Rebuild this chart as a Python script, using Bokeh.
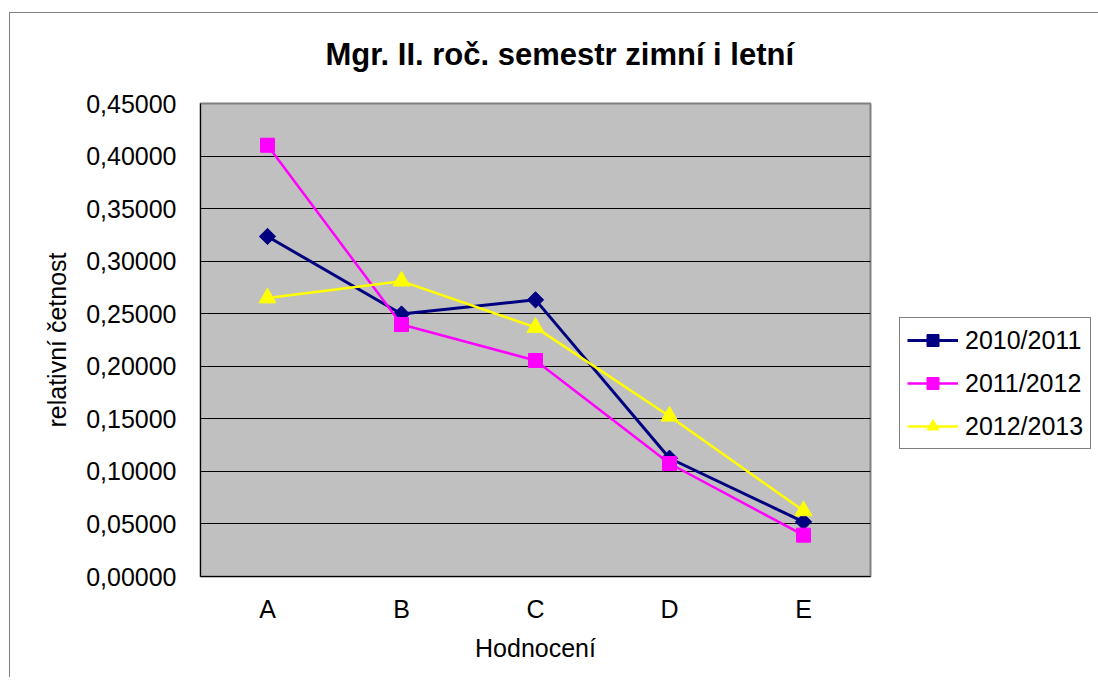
from bokeh.plotting import figure
from bokeh.models import (ColumnDataSource, FactorRange, Range1d, FixedTicker,
                          CustomJSTickFormatter, Legend, LegendItem, Title)
from bokeh.embed import file_html
from bokeh.resources import INLINE
import math

# ---- data ----
categories = ["A", "B", "C", "D", "E"]
series_names = ["2010/2011", "2011/2012", "2012/2013"]
s2010_2011 = [0.3235, 0.2497, 0.2632, 0.1125, 0.0520]
s2011_2012 = [0.4103, 0.2397, 0.2055, 0.1075, 0.0393]
s2012_2013 = [0.2650, 0.2810, 0.2370, 0.1525, 0.0625]
y_ticks = [0.0, 0.05, 0.10, 0.15, 0.20, 0.25, 0.30, 0.35, 0.40, 0.45]

FONT = "Liberation Sans"

p = figure(
    width=None, height=None,
    frame_width=670, frame_height=473,
    x_range=FactorRange(*categories),
    y_range=Range1d(0, 0.45),
    output_backend="svg", toolbar_location=None,
    min_border_left=190, min_border_right=226,
    min_border_top=90, min_border_bottom=101,
    background_fill_color="#C0C0C0",
    border_fill_color="white",
)
p.styles = {"margin-top": "12px", "margin-left": "9px",
            "border-top": "1px solid #808080",
            "border-left": "1px solid #808080",
            "border-right": "1px solid #808080"}

p.outline_line_color = "#808080"
p.outline_line_width = 2

# spacer between title and plot area (empty-looking title), then the real title
spacer = Title(text="\u00a0", text_font=FONT, text_font_size="10px", standoff=19)
p.add_layout(spacer, "above")
t = Title(text="Mgr. II. roč. semestr zimní i letní", align="left", offset=125,
          text_font=FONT, text_font_size="31px", text_font_style="bold",
          text_color="black", standoff=0)
p.add_layout(t, "above")

# axes
p.xgrid.grid_line_color = None
p.ygrid.grid_line_color = "black"
p.ygrid.grid_line_width = 1

p.yaxis.ticker = FixedTicker(ticks=y_ticks)
p.yaxis.formatter = CustomJSTickFormatter(code="return tick.toFixed(5).replace('.', ',');")
for ax in (p.xaxis[0], p.yaxis[0]):
    ax.major_tick_out = 0
    ax.major_tick_in = 0
    ax.minor_tick_out = 0
    ax.minor_tick_in = 0
    ax.axis_line_color = "black"
    ax.axis_line_width = 1
    ax.major_label_text_font = FONT
    ax.major_label_text_font_size = "25px"
    ax.major_label_text_color = "black"
    ax.axis_label_text_font = FONT
    ax.axis_label_text_font_size = "25px"
    ax.axis_label_text_font_style = "normal"
    ax.axis_label_text_color = "black"

p.yaxis.axis_label = "relativní četnost"
p.yaxis.major_label_standoff = 24
p.yaxis.axis_label_standoff = 12
p.xaxis.axis_label = "Hodnocení"
p.xaxis.major_label_standoff = 18
p.xaxis.axis_label_standoff = 8

src = ColumnDataSource(dict(cat=categories, a=s2010_2011, b=s2011_2012, c=s2012_2013))

l1 = p.line("cat", "a", source=src, line_color="#000080", line_width=3)
m1 = p.scatter("cat", "a", source=src, marker="square", angle=math.pi / 4,
               size=11.5, fill_color="#000080", line_color="#000080")
l2 = p.line("cat", "b", source=src, line_color="#FF00FF", line_width=2.5)
m2 = p.scatter("cat", "b", source=src, marker="square", size=14,
               fill_color="#FF00FF", line_color="#FF00FF")
l3 = p.line("cat", "c", source=src, line_color="#FFFF00", line_width=2.5)
m3 = p.scatter("cat", "c", source=src, marker="triangle", size=17,
               fill_color="#FFFF00", line_color="#FFFF00")

legend = Legend(
    items=[LegendItem(label=series_names[0], renderers=[l1, m1]),
           LegendItem(label=series_names[1], renderers=[l2, m2]),
           LegendItem(label=series_names[2], renderers=[l3, m3])],
    location=(29, 127),
    label_text_font=FONT, label_text_font_size="25px", label_text_color="black",
    glyph_width=51, glyph_height=30, label_height=30, label_standoff=7,
    spacing=13, padding=7, margin=0,
    border_line_color="black", border_line_width=1,
    background_fill_color="white", background_fill_alpha=1.0,
)
p.add_layout(legend, "right")

open("out.html", "w").write(file_html(p, INLINE))
